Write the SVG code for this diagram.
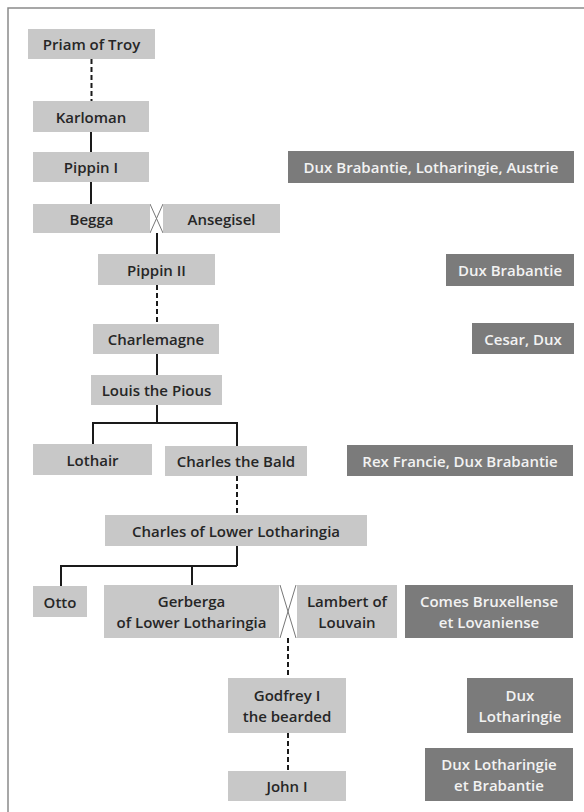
<svg xmlns="http://www.w3.org/2000/svg" width="584" height="812" viewBox="0 0 584 812">
<style>
.l rect{fill:#c8c8c8}
.d rect{fill:#7b7b7b}
text{font-family:"Open Sans","Liberation Sans",sans-serif;font-size:15px;font-weight:600;text-anchor:middle;dominant-baseline:central}
.l text{fill:#262626}
.d text{fill:#f2f2f2}
.c line,.c path{stroke:#1a1a1a;stroke-width:2;fill:none}
.c .ds{stroke-dasharray:5 3}
.c .x{stroke:#777;stroke-width:1}
</style>
<rect width="584" height="812" fill="#fff"/>
<path d="M8 812 V8 H584" fill="none" stroke="#8a8a8a" stroke-width="1.5"/>
<g id="connectors" class="c">
<line class="ds" x1="91.5" y1="59" x2="91.5" y2="101"/>
<line x1="91" y1="132" x2="91" y2="152"/>
<line x1="91" y1="182" x2="91" y2="204"/>
<line class="x" x1="150" y1="204" x2="163" y2="233"/>
<line class="x" x1="163" y1="204" x2="150" y2="233"/>
<line x1="157" y1="233" x2="157" y2="254"/>
<line class="ds" x1="157" y1="285" x2="157" y2="324"/>
<line x1="157" y1="354" x2="157" y2="375"/>
<path d="M157 405 V423 M93 444 V423 H237 V446"/>
<line class="ds" x1="237" y1="476" x2="237" y2="515"/>
<path d="M237 546 V566 M61 586 V566 H237 M192 566 V585"/>
<line class="x" x1="280" y1="585" x2="296" y2="638"/>
<line class="x" x1="296" y1="585" x2="280" y2="638"/>
<line class="ds" x1="288" y1="638" x2="288" y2="678"/>
<line class="ds" x1="288" y1="733" x2="288" y2="771"/>
</g>
<g id="priam" class="l"><rect x="28" y="29" width="127" height="30"/><text x="91.5" y="44">Priam of Troy</text></g>
<g id="karloman" class="l"><rect x="33" y="101" width="116" height="31"/><text x="91" y="116.5">Karloman</text></g>
<g id="pippin1" class="l"><rect x="33" y="152" width="116" height="30"/><text x="91" y="167">Pippin I</text></g>
<g id="begga" class="l"><rect x="33" y="204" width="117" height="29"/><text x="91.5" y="218.5">Begga</text></g>
<g id="ansegisel" class="l"><rect x="163" y="204" width="117" height="29"/><text x="221.5" y="218.5">Ansegisel</text></g>
<g id="pippin2" class="l"><rect x="98" y="254" width="117" height="31"/><text x="156.5" y="269.5">Pippin II</text></g>
<g id="charlemagne" class="l"><rect x="93" y="324" width="126" height="30"/><text x="156" y="339">Charlemagne</text></g>
<g id="louis" class="l"><rect x="91" y="375" width="131" height="30"/><text x="156.5" y="390">Louis the Pious</text></g>
<g id="lothair" class="l"><rect x="33" y="444" width="119" height="31"/><text x="92.5" y="459.5">Lothair</text></g>
<g id="charlesbald" class="l"><rect x="165" y="446" width="142" height="30"/><text x="236" y="461">Charles the Bald</text></g>
<g id="charleslower" class="l"><rect x="105" y="515" width="262" height="31"/><text x="236" y="530.5">Charles of Lower Lotharingia</text></g>
<g id="otto" class="l"><rect x="33" y="586" width="54" height="31"/><text x="60" y="601.5">Otto</text></g>
<g id="gerberga" class="l"><rect x="104" y="585" width="175" height="53"/><text x="191.5" y="601">Gerberga</text><text x="191.5" y="622">of Lower Lotharingia</text></g>
<g id="lambert" class="l"><rect x="297" y="585" width="100" height="53"/><text x="347" y="601">Lambert of</text><text x="347" y="622">Louvain</text></g>
<g id="godfrey" class="l"><rect x="228" y="678" width="118" height="55"/><text x="287" y="695">Godfrey I</text><text x="287" y="716">the bearded</text></g>
<g id="john" class="l"><rect x="228" y="771" width="118" height="30"/><text x="287" y="786">John I</text></g>
<g id="t-dux-bla" class="d"><rect x="288" y="151" width="286" height="32"/><text x="431" y="167">Dux Brabantie, Lotharingie, Austrie</text></g>
<g id="t-dux-b" class="d"><rect x="446" y="254" width="128" height="32"/><text x="510" y="270">Dux Brabantie</text></g>
<g id="t-cesar" class="d"><rect x="472" y="323" width="102" height="31"/><text x="523" y="338.5">Cesar, Dux</text></g>
<g id="t-rex" class="d"><rect x="347" y="445" width="226" height="31"/><text x="460" y="460.5">Rex Francie, Dux Brabantie</text></g>
<g id="t-comes" class="d"><rect x="405" y="585" width="168" height="53"/><text x="489" y="601">Comes Bruxellense</text><text x="489" y="622">et Lovaniense</text></g>
<g id="t-dux-l" class="d"><rect x="467" y="678" width="106" height="55"/><text x="520" y="695">Dux</text><text x="520" y="716">Lotharingie</text></g>
<g id="t-dux-lb" class="d"><rect x="425" y="748" width="148" height="53"/><text x="499" y="764">Dux Lotharingie</text><text x="499" y="785">et Brabantie</text></g>
</svg>
